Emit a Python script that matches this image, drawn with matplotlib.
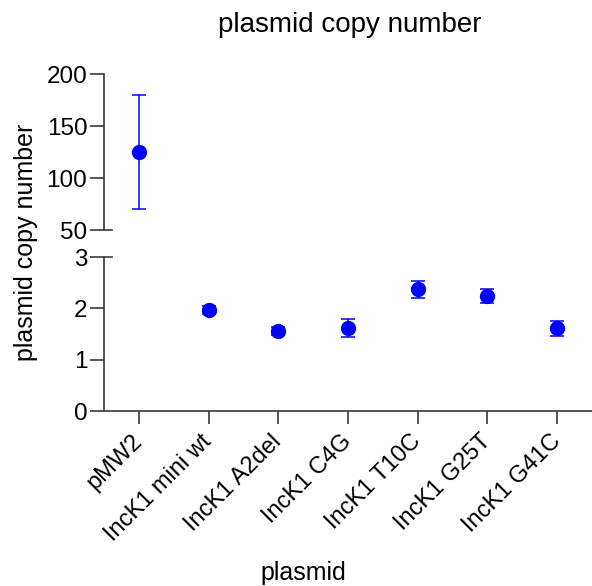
import matplotlib
matplotlib.use("Agg")
import matplotlib.pyplot as plt
import numpy as np

plt.rcParams['font.family'] = ['Liberation Sans', 'DejaVu Sans']

categories = ["pMW2", "IncK1 mini wt", "IncK1 A2del", "IncK1 C4G",
              "IncK1 T10C", "IncK1 G25T", "IncK1 G41C"]
means = [125, 1.96, 1.56, 1.62, 2.37, 2.24, 1.61]
errors = [55, 0.08, 0.08, 0.17, 0.17, 0.13, 0.14]
top_ticks = [50, 100, 150, 200]
bottom_ticks = [0, 1, 2, 3]

W, H = 592, 586
fig = plt.figure(figsize=(W / 100, H / 100), dpi=100)

def box(l, r, t, b):
    return [l / W, 1 - b / H, (r - l) / W, (b - t) / H]

ax_top = fig.add_axes(box(104, 592, 74, 230))
ax_bot = fig.add_axes(box(104, 592, 257, 411))

x = np.arange(len(categories))
blue = '#0000ff'
spine_c = '#3a3a3a'

for ax, lim, ticks in [(ax_top, (50, 200), top_ticks), (ax_bot, (0, 3), bottom_ticks)]:
    ax.errorbar(x, means, yerr=errors, fmt='o', color=blue, ecolor=blue,
                markersize=10, elinewidth=1.1, capsize=5, capthick=1.1, clip_on=True, zorder=3)
    ax.set_ylim(*lim)
    ax.set_xlim(-0.5, 6.5)
    ax.set_yticks(ticks)
    ax.spines['top'].set_visible(False)
    ax.spines['right'].set_visible(False)
    ax.spines['left'].set_color(spine_c)
    ax.spines['left'].set_linewidth(1.2)
    ax.tick_params(axis='y', length=10, width=1.2, color=spine_c, labelsize=17.5, pad=2)
    ax.patch.set_visible(False)

ax_top.spines['bottom'].set_visible(False)
ax_top.tick_params(axis='x', bottom=False, labelbottom=False)

ax_bot.spines['bottom'].set_color(spine_c)
ax_bot.spines['bottom'].set_linewidth(1.2)
ax_bot.set_xticks(x)
ax_bot.set_xticklabels(categories, rotation=45, ha='right', va='center', rotation_mode='anchor')
ax_bot.tick_params(axis='x', length=9, width=1.2, color=spine_c, labelsize=17, pad=10.5)

# break marks extending inward at the break
ax_top.plot([0, 0.017], [0, 0], transform=ax_top.transAxes, color=spine_c, lw=1.2, clip_on=False)
ax_bot.plot([0, 0.017], [1, 1], transform=ax_bot.transAxes, color=spine_c, lw=1.2, clip_on=False)

fig.text(26 / W, 1 - 242 / H, "plasmid copy number", rotation=90, ha='center', va='center', fontsize=18)
fig.text(350 / W, 1 - 25 / H, "plasmid copy number", ha='center', va='center', fontsize=20)
fig.text(303 / W, 1 - 573 / H, "plasmid", ha='center', va='center', fontsize=18)

fig.savefig("out.png", dpi=100, facecolor='white')
